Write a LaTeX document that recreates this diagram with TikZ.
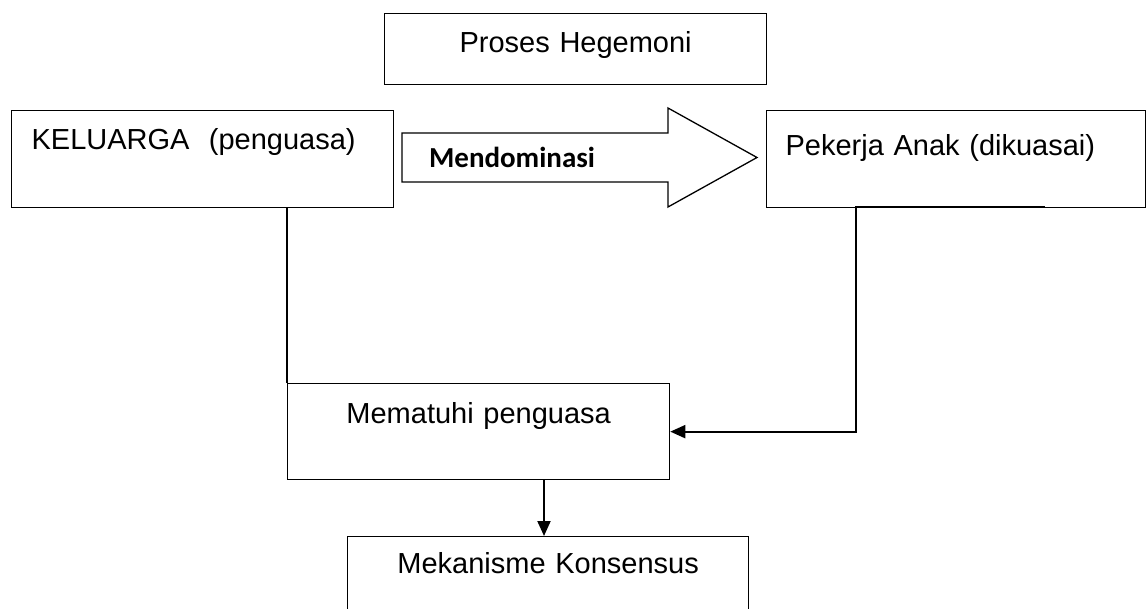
\documentclass[tikz,border=0pt]{standalone}
\usepackage{fontspec}
\setmainfont{Liberation Sans}
\newfontfamily\calibri{Carlito}
\usepackage{tikz}
\usetikzlibrary{positioning, arrows.meta, calc}

\begin{document}
\begin{tikzpicture}[x=0.5pt, y=-0.5pt,
  every node/.style={font=\fontsize{14.5}{17}\selectfont, text=black},
  box/.style={rectangle, draw=black, line width=0.65pt, fill=white,
              inner ysep=0pt, anchor=north west},
  boxleft/.style={box, align=left, inner xsep=10pt},
  boxmid/.style={box, align=center, inner xsep=0pt},
  blockarrow/.style={draw=black, line width=0.65pt, fill=white, line join=miter},
  link/.style={draw=black, line width=1pt},
  arr/.style={link, -{Triangle[length=7.5pt, width=6.5pt]}},
]
  \useasboundingbox (0,0) rectangle (1147,609);
  \clip (0,0) rectangle (1147,609);

  \coordinate (pk_end)  at (1045,207);
  \coordinate (pk_turn) at (856,207);
  \coordinate (drop)    at (544,0);

  \node[boxmid, text width=191pt, text height=19.5pt, text depth=16pt]
        at (384,13) (hegemoni) {Proses Hegemoni};
  \node[boxleft, text width=171pt, text height=19.5pt, text depth=29pt]
        at (11,110) (keluarga) {KELUARGA\ \ (penguasa)};
  \node[boxleft, inner xsep=9.5pt, text width=170.5pt, text height=22.5pt, text depth=26pt]
        at (766,110) (pekerja) {Pekerja Anak (dikuasai)};
  \node[boxmid, text width=191pt, text height=20pt, text depth=28pt]
        at (287,383) (mematuhi) {Mematuhi penguasa};
  \node[boxmid, text width=200.5pt, text height=18.5pt, text depth=45pt]
        at (347,536) (konsensus) {Mekanisme Konsensus};

  % block arrow between the two top boxes
  \draw[blockarrow] (402,133) -- (668,133) -- (668,108) -- (757,157.5)
        -- (668,207) -- (668,182) -- (402,182) -- cycle;
  \node[anchor=base west, font=\calibri\bfseries\fontsize{14.5}{17}\selectfont]
        at (422,168) (dominasi) {Mendominasi};

  \draw[link] (keluarga.south -| mematuhi.west) -- (mematuhi.north west);
  \draw[arr] (pk_end) -- (pk_turn) |- (mematuhi.east);
  \draw[arr] (mematuhi.south -| drop) -- (konsensus.north -| drop);
\end{tikzpicture}
\end{document}
